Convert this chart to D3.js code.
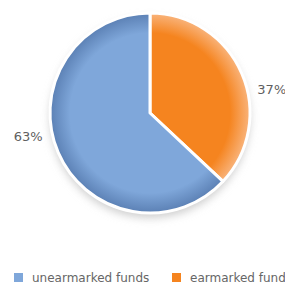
<!DOCTYPE html>
<html>
<head>
<meta charset="utf-8">
<script src="https://cdn.jsdelivr.net/npm/d3@7"></script>
<style>
  body { margin: 0; background: #fff; }
  text { font-family: Verdana, "DejaVu Sans", sans-serif; }
</style>
</head>
<body>
<svg id="pie-svg" width="285" height="284"></svg>
<script>
// chart data
const categories = ['earmarked funds', 'unearmarked funds'];
const shares = [37, 63];
const colors = ['#f5841f', '#7fa7da'];
const edgeColors = ['#f9b47c', '#5b80b4'];
const legendOrder = ['unearmarked funds', 'earmarked funds'];

const CX = 150, CY = 113, R = 100;

const svg = d3.select('#pie-svg');
const defs = svg.append('defs');

// shading for each slice (local coords of the chart group)
categories.forEach((c, i) => {
    const g = defs.append('radialGradient')
        .attr('id', 'grad' + i)
        .attr('gradientUnits', 'userSpaceOnUse')
        .attr('cx', 0).attr('cy', 0).attr('r', R);
    g.append('stop').attr('offset', '0%').attr('stop-color', colors[i]);
    g.append('stop').attr('offset', '80%').attr('stop-color', colors[i]);
    g.append('stop').attr('offset', '100%').attr('stop-color', edgeColors[i]);
});

const blur = defs.append('filter').attr('id', 'shadow')
    .attr('x', '-20%').attr('y', '-20%').attr('width', '140%').attr('height', '140%');
blur.append('feGaussianBlur').attr('stdDeviation', 4);

// soft shadow under the pie
svg.append('ellipse')
    .attr('cx', CX).attr('cy', CY + 5)
    .attr('rx', R).attr('ry', R)
    .attr('fill', '#cfcfcf')
    .attr('filter', 'url(#shadow)');

const pie = d3.pie().sort(null).value(d => d);
const arcs = pie(shares);
const arc = d3.arc().innerRadius(0).outerRadius(R);

const chart = svg.append('g').attr('transform', `translate(${CX}, ${CY})`);

chart.selectAll('path')
    .data(arcs)
    .enter()
    .append('path')
    .attr('d', arc)
    .attr('fill', (d, i) => `url(#grad${i})`)
    .attr('stroke', '#fff')
    .attr('stroke-width', 3)
    .attr('stroke-linejoin', 'round');

// percentage labels, pushed a bit clockwise like the original
const LR = R + 24, SHIFT = 0.22;
const labelPos = (d) => {
    const a = (d.startAngle + d.endAngle) / 2 + SHIFT;
    return [Math.sin(a) * LR, -Math.cos(a) * LR];
};
chart.selectAll('text.pct')
    .data(arcs)
    .enter()
    .append('text')
    .attr('class', 'pct')
    .attr('x', d => labelPos(d)[0])
    .attr('y', d => labelPos(d)[1])
    .attr('text-anchor', 'middle')
    .attr('dy', '0.35em')
    .style('font-size', '13px')
    .attr('fill', '#606060')
    .text(d => d.data + '%');

// legend
const legend = svg.append('g').attr('transform', 'translate(14, 273)');
const lx = d3.scaleOrdinal().domain(legendOrder).range([0, 158]);
legendOrder.forEach((name) => {
    const i = categories.indexOf(name);
    legend.append('rect')
        .attr('x', lx(name)).attr('y', 0)
        .attr('width', 9).attr('height', 9)
        .attr('fill', colors[i]);
    legend.append('text')
        .attr('x', lx(name) + 18).attr('y', 9)
        .style('font-size', '12px')
        .attr('fill', '#666')
        .text(name);
});
</script>
</body>
</html>
